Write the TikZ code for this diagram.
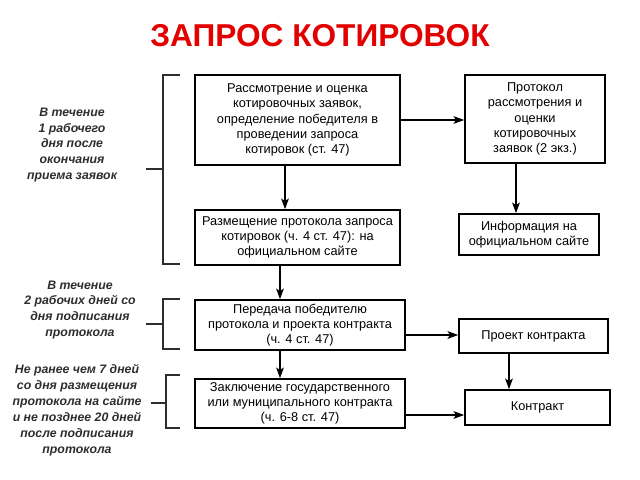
\documentclass[tikz,border=0pt]{standalone}
\usepackage{fontspec}
\setmainfont{Liberation Sans}
\usepackage{xcolor}
\usepackage{tikz}
\usetikzlibrary{arrows.meta}

\definecolor{titlered}{RGB}{226,0,0}
\definecolor{notegray}{RGB}{45,45,45}

\begin{document}
\begin{tikzpicture}
      [ x=0.03cm, y=-0.03cm,
        box/.style={draw, line width=1.4pt, align=center, inner sep=1pt,
                    font=\fontsize{10.9}{13}\selectfont},
        note/.style={align=center, text=notegray,
                     font=\fontsize{10.5}{13.6}\selectfont\bfseries\itshape},
        brace/.style={draw, line width=0.9pt, notegray},
        >={Stealth[length=9pt,width=6.5pt,inset=2pt]}
      ]
      \useasboundingbox (0,0) rectangle (640,480);

      \node[text=titlered, font=\fontsize{27}{30}\selectfont\bfseries]
            (title) at (320,36) {ЗАПРОС КОТИРОВОК};

      % left column
      \node[box, minimum width=205*0.03cm, minimum height=90*0.03cm]  (review)  at (297.5,120)
            {Рассмотрение и оценка\\котировочных заявок,\\определение победителя в\\проведении запроса\\котировок (ст. 47)};
      \node[box, minimum width=205*0.03cm, minimum height=55*0.03cm]  (publish) at (297.5,237.5)
            {Размещение протокола запроса\\котировок (ч. 4 ст. 47): на\\официальном сайте};
      \node[box, minimum width=210*0.03cm, minimum height=50*0.03cm]  (handover) at (300,325)
            {Передача победителю\\протокола и проекта контракта\\(ч. 4 ст. 47)};
      \node[box, minimum width=210*0.03cm, minimum height=49*0.03cm]  (conclude) at (300,403.5)
            {Заключение государственного\\или муниципального контракта\\(ч. 6-8 ст. 47)};

      % right column
      \node[box, minimum width=140*0.03cm, minimum height=88*0.03cm]  (protocol) at (535,119)
            {Протокол\\рассмотрения и\\оценки\\котировочных\\заявок (2 экз.)};
      \node[box, minimum width=140*0.03cm, minimum height=41*0.03cm]  (info)     at (529,234.5)
            {Информация на\\официальном сайте};
      \node[box, minimum width=149*0.03cm, minimum height=34*0.03cm]  (draft)    at (533.5,336)
            {Проект контракта};
      \node[box, minimum width=145*0.03cm, minimum height=35*0.03cm]  (contract) at (537.5,407.5)
            {Контракт};

      % deadlines
      \node[note] (term1) at (72,145)
            {В течение\\1 рабочего\\дня после\\окончания\\приема заявок};
      \node[note] (term2) at (80,310)
            {В течение\\2 рабочих дней со\\дня подписания\\протокола};
      \node[note] (term3) at (77,410)
            {Не ранее чем 7 дней\\со дня размещения\\протокола на сайте\\и не позднее 20 дней\\после подписания\\протокола};

      \coordinate (colA) at (285,0);
      \coordinate (colB) at (280,0);
      \coordinate (colC) at (516,0);
      \coordinate (colD) at (509,0);
      \coordinate (rowA) at (0,120);
      \coordinate (rowB) at (0,335);
      \coordinate (rowC) at (0,415);

      \path[->, line width=1.4pt]
                (review.east |- rowA)    edge (protocol.west |- rowA)
                (review.south -| colA)   edge (publish.north -| colA)
                (protocol.south -| colC) edge (info.north -| colC)
                (publish.south -| colB)  edge (handover.north -| colB)
                (handover.east |- rowB)  edge (draft.west |- rowB)
                (handover.south -| colB) edge (conclude.north -| colB)
                (draft.south -| colD)    edge (contract.north -| colD)
                (conclude.east |- rowC)  edge (contract.west |- rowC);

      % brackets
      \path[brace] (180,75) -- (163,75) -- (163,264) -- (180,264)
                   (146,169) -- (163,169);
      \path[brace] (180,299) -- (163,299) -- (163,349) -- (180,349)
                   (146,324) -- (163,324);
      \path[brace] (180,375) -- (166,375) -- (166,428) -- (180,428)
                   (151,403) -- (166,403);
\end{tikzpicture}
\end{document}
